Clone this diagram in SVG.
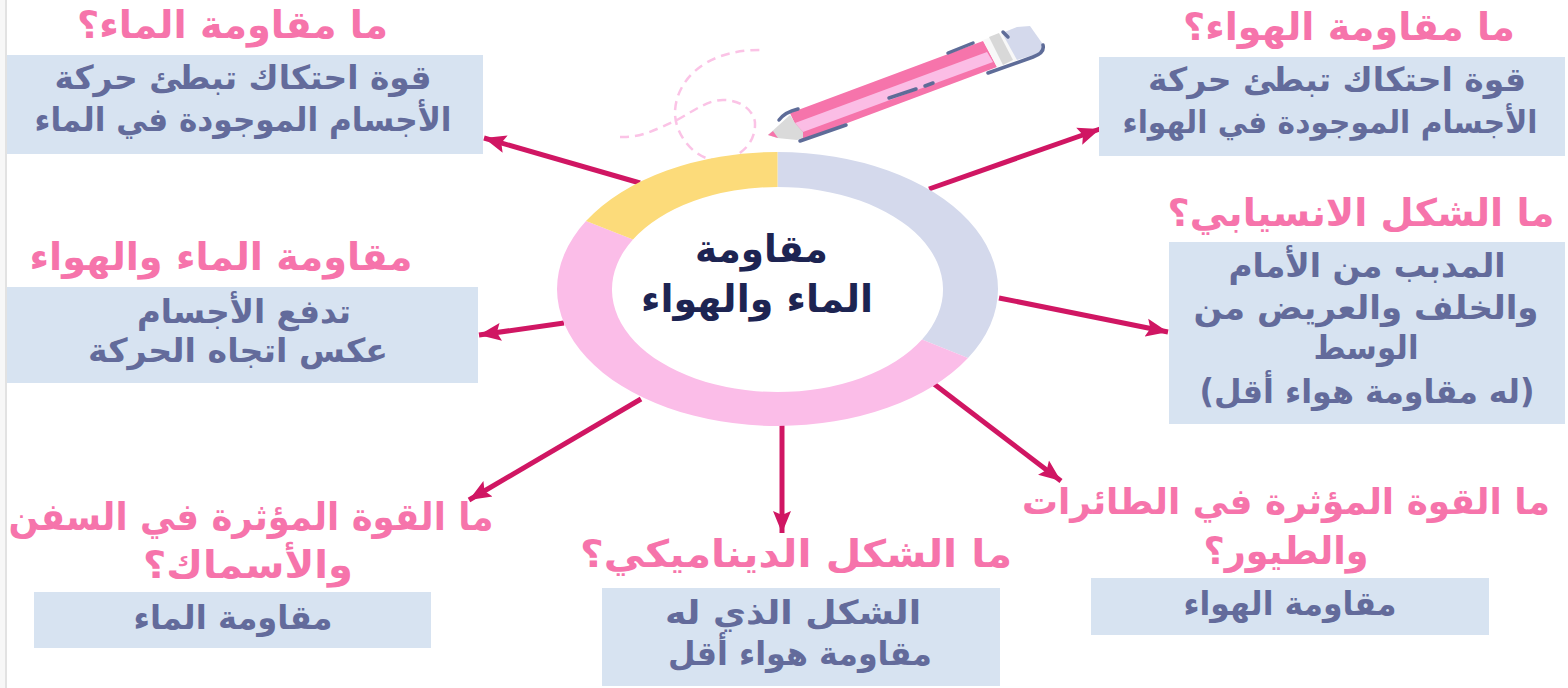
<svg xmlns="http://www.w3.org/2000/svg" width="1568" height="688" viewBox="0 0 1568 688">
<style>
text{font-family:"DejaVu Sans",sans-serif;font-weight:700;text-anchor:middle;direction:rtl}
.h{fill:#f674ab;font-size:38px}
.b{fill:#636b9b;font-size:33px}
.c{fill:#1d2452;font-size:38px}
.box{fill:#d7e3f1}
.a{stroke:#d01663;stroke-width:5;fill:none;marker-end:url(#ah)}
</style>
<defs>
<marker id="ah" markerUnits="userSpaceOnUse" markerWidth="24" markerHeight="20" refX="22" refY="10" orient="auto"><path d="M0 1L22 10L0 19L4 10Z" fill="#d01663"/></marker>
</defs>
<rect width="1568" height="688" fill="#fff"/>
<rect x="0" y="0" width="5" height="688" fill="#f7f7f7"/>
<rect x="5" y="0" width="2" height="688" fill="#e2e2e2"/>
<g id="doodle" fill="none" stroke="#fbc3e6" stroke-width="2.500" stroke-dasharray="9 6">
<path d="M620 137C640 138 655 130 677 120C695 110 708 100 723 100C745 100 756 115 755 125C755 145 737 160 717 160C695 160 675 135 675 113C675 85 700 50 760 50"/>
</g>
<g id="pencil">
<path d="M790 113L983 41L997 67L802 140Z" fill="#f674ab"/>
<path d="M795 123L987 52L993 62L803 132Z" fill="#fbbde5"/>
<path d="M768 135L790 115L795 123L803 132L803 138L797 140L777 138Z" fill="#dadada"/>
<path d="M768 135L773 131L778 138Z" fill="#f674ab"/>
<path d="M983 40L1002 33L1018 60L997 67Z" fill="#f8f8f8"/>
<path d="M989 37L999 33L1013 60L1003 65Z" fill="#d8d8d8"/>
<path d="M1002 33L1017 27L1030 26L1042 43L1043 52L1017 60Z" fill="#d4d9ec"/>
<g fill="none" stroke="#5e6c98" stroke-width="3.500" stroke-linecap="round">
<path d="M779 120Q785 112 798 109"/><path d="M800 141L846 125"/><path d="M948 53L973 43"/><path d="M889 98L916 89"/><path d="M925 86L933 83"/><path d="M988 73L1033 57Q1045 53 1043 45"/><path d="M1003 32L1008 37"/>
</g>
</g>
<g id="connectors">
<path class="a" d="M640 183L484 138"/>
<path class="a" d="M929 189L1100 129"/>
<path class="a" d="M999 298L1168 332"/>
<path class="a" d="M564 323L479 335"/>
<path class="a" d="M641 399L469 500"/>
<path class="a" d="M782 424L782 533"/>
<path class="a" d="M934 384L1061 481"/>
</g>
<g id="ring">
<path d="M777.500 152A220.500 137 0 0 1 968 358L922 339.500A165.500 102.500 0 0 0 777.500 187Z" fill="#d4d9ec"/>
<path d="M968 358A220.500 137 0 0 1 777.500 426A220.500 137 0 0 1 586 221.100L633 239.500A165.500 102.500 0 0 0 777.500 392A165.500 102.500 0 0 0 922 339.500Z" fill="#fbbde8"/>
<path d="M586 221.100A220.500 137 0 0 1 777.500 152L777.500 187A165.500 102.500 0 0 0 633 239.500Z" fill="#fcdb7a"/>
</g>
<g id="center"><text class="c" x="761.500" y="262" textLength="133" lengthAdjust="spacingAndGlyphs">مقاومة</text><text class="c" x="757" y="312" textLength="232" lengthAdjust="spacingAndGlyphs">الماء والهواء</text></g>
<g id="n1"><text class="h" x="232.500" y="38" textLength="311" lengthAdjust="spacingAndGlyphs">ما مقاومة الماء؟</text><rect class="box" x="7" y="55" width="476" height="99"/><text class="b" x="243" y="89" textLength="377" lengthAdjust="spacingAndGlyphs">قوة احتكاك تبطئ حركة</text><text class="b" x="243" y="131" textLength="417" lengthAdjust="spacingAndGlyphs">الأجسام الموجودة في الماء</text></g>
<g id="n2"><text class="h" x="1349" y="40" textLength="332" lengthAdjust="spacingAndGlyphs">ما مقاومة الهواء؟</text><rect class="box" x="1099" y="57" width="466" height="99"/><text class="b" x="1337" y="91" textLength="378" lengthAdjust="spacingAndGlyphs">قوة احتكاك تبطئ حركة</text><text class="b" style="font-size:31px" x="1330" y="133" textLength="415" lengthAdjust="spacingAndGlyphs">الأجسام الموجودة في الهواء</text></g>
<g id="n3"><text class="h" x="1361" y="226" textLength="387" lengthAdjust="spacingAndGlyphs">ما الشكل الانسيابي؟</text><rect class="box" x="1169" y="242" width="396" height="182"/><text class="b" x="1367" y="277" textLength="277" lengthAdjust="spacingAndGlyphs">المدبب من الأمام</text><text class="b" x="1366" y="319" textLength="345" lengthAdjust="spacingAndGlyphs">والخلف والعريض من</text><text class="b" x="1366" y="359" textLength="105" lengthAdjust="spacingAndGlyphs">الوسط</text><text class="b" x="1367" y="403" textLength="335" lengthAdjust="spacingAndGlyphs">(له مقاومة هواء أقل)</text></g>
<g id="n4"><text class="h" x="221" y="270" textLength="383" lengthAdjust="spacingAndGlyphs">مقاومة الماء والهواء</text><rect class="box" x="7" y="287" width="471" height="96"/><text class="b" x="244" y="323" textLength="214" lengthAdjust="spacingAndGlyphs">تدفع الأجسام</text><text class="b" x="238" y="362" textLength="300" lengthAdjust="spacingAndGlyphs">عكس اتجاه الحركة</text></g>
<g id="n5"><text class="h" x="251" y="530" textLength="485" lengthAdjust="spacingAndGlyphs">ما القوة المؤثرة في السفن</text><text class="h" x="248" y="578" textLength="210" lengthAdjust="spacingAndGlyphs">والأسماك؟</text><rect class="box" x="34" y="592" width="397" height="56"/><text class="b" x="233" y="629" textLength="199" lengthAdjust="spacingAndGlyphs">مقاومة الماء</text></g>
<g id="n6"><text class="h" x="796" y="567" textLength="432" lengthAdjust="spacingAndGlyphs">ما الشكل الديناميكي؟</text><rect class="box" x="602" y="588" width="398" height="98"/><text class="b" x="793" y="624" textLength="256" lengthAdjust="spacingAndGlyphs">الشكل الذي له</text><text class="b" x="800" y="665" textLength="264" lengthAdjust="spacingAndGlyphs">مقاومة هواء أقل</text></g>
<g id="n7"><text class="h" style="font-size:36px" x="1286" y="514" textLength="528" lengthAdjust="spacingAndGlyphs">ما القوة المؤثرة في الطائرات</text><text class="h" x="1286" y="564" textLength="165" lengthAdjust="spacingAndGlyphs">والطيور؟</text><rect class="box" x="1091" y="578" width="398" height="57"/><text class="b" x="1290" y="615" textLength="213" lengthAdjust="spacingAndGlyphs">مقاومة الهواء</text></g>
</svg>
